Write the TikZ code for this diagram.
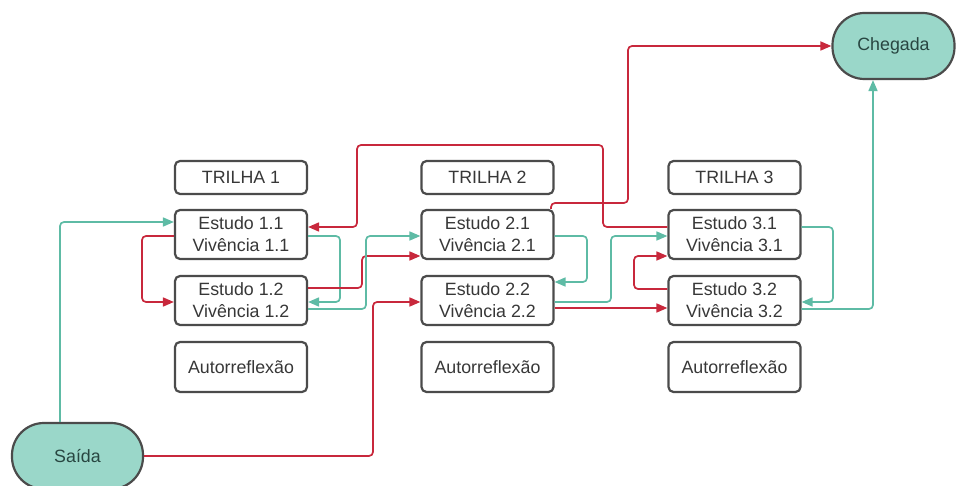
\documentclass[tikz,border=0pt]{standalone}
\usepackage{fontspec}
\setmainfont{Liberation Sans}
\usetikzlibrary{arrows.meta}
\definecolor{teall}{RGB}{94,187,165}
\definecolor{tealfill}{RGB}{154,215,201}
\definecolor{redl}{RGB}{200,40,60}
\definecolor{boxd}{RGB}{75,75,75}
\definecolor{txt}{RGB}{55,55,55}
\definecolor{ttxt}{RGB}{40,70,65}
\begin{document}
\begin{tikzpicture}[x=1pt,y=-1pt,
  box/.style={draw=boxd,line width=2.2pt,rounded corners=5pt,minimum width=132pt,minimum height=49pt,inner sep=0pt,align=center,font=\fontsize{17.8}{21.8}\selectfont,text=txt},
  term/.style={draw=boxd,fill=tealfill,line width=2.2pt,rounded corners=31pt,minimum width=131pt,minimum height=64pt,inner sep=0pt,font=\fontsize{17.8}{21.8}\selectfont,text=ttxt},
  tl/.style={draw=teall,line width=1.7pt,rounded corners=4pt,-{Triangle[length=11pt,width=9pt]}},
  rl/.style={draw=redl,line width=1.7pt,rounded corners=4pt,-{Triangle[length=11pt,width=9pt]}}]
\useasboundingbox (0,0) rectangle (956,486);
% column 1
\node[box,minimum height=33pt] (t1) at (241,177.5) {TRILHA 1};
\node[box] (e11) at (241,234.5) {Estudo 1.1\\Vivência 1.1};
\node[box] (e12) at (241,300.5) {Estudo 1.2\\Vivência 1.2};
\node[box,minimum height=50pt] (a1) at (241,367) {Autorreflexão};
% column 2
\node[box,minimum height=33pt] (t2) at (487.5,177.5) {TRILHA 2};
\node[box] (e21) at (487.5,234.5) {Estudo 2.1\\Vivência 2.1};
\node[box] (e22) at (487.5,300.5) {Estudo 2.2\\Vivência 2.2};
\node[box,minimum height=50pt] (a2) at (487.5,367) {Autorreflexão};
% column 3
\node[box,minimum height=33pt] (t3) at (734.5,177.5) {TRILHA 3};
\node[box] (e31) at (734.5,234.5) {Estudo 3.1\\Vivência 3.1};
\node[box] (e32) at (734.5,300.5) {Estudo 3.2\\Vivência 3.2};
\node[box,minimum height=50pt] (a3) at (734.5,367) {Autorreflexão};
% terminals
\node[term,minimum height=66pt,rounded corners=32pt] (sai) at (77.5,456) {Saída};
\node[term,minimum width=122pt,minimum height=66pt,rounded corners=32pt] (che) at (893.5,46) {Chegada};
% connectors
\draw[tl] (sai.north -| 60,0) |- (e11.west |- 0,222);
\draw[rl] (sai.east) -| (373,302) -- (e22.west |- 0,302);
\draw[rl] (e11.west |- 0,236) -| (142,302) -- (e12.west |- 0,302);
\draw[tl] (e11.east |- 0,236) -| (340,302) -- (e12.east |- 0,302);
\draw[rl] (e12.east |- 0,288) -| (362,256) -- (e21.west |- 0,256);
\draw[tl] (e12.east |- 0,309) -| (366,236) -- (e21.west |- 0,236);
\draw[rl] (e21.north -| 551,0) |- (628,203) |- (che.west);
\draw[rl] (e31.west |- 0,227) -| (603,145) -| (357,227) -- (e11.east |- 0,227);
\draw[tl] (e21.east |- 0,236) -| (587,282) -- (e22.east |- 0,282);
\draw[tl] (e22.east |- 0,302) -| (611,236) -- (e31.west |- 0,236);
\draw[rl] (e22.east |- 0,308) -- (e32.west |- 0,308);
\draw[rl] (e32.west |- 0,289) -| (634,256) -- (e31.west |- 0,256);
\draw[tl] (e31.east |- 0,227) -| (833,302) -- (e32.east |- 0,302);
\draw[tl] (e32.east |- 0,309) -| (che.south -| 873,0);
\end{tikzpicture}
\end{document}
